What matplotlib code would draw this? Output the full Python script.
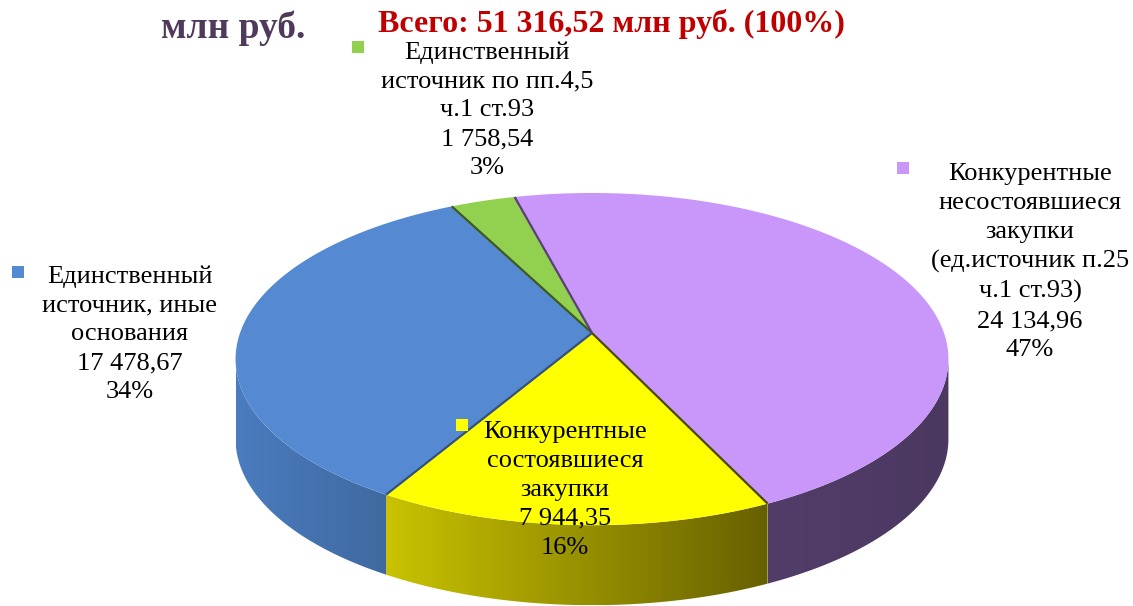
import numpy as np
import matplotlib
matplotlib.use('Agg')
import matplotlib.pyplot as plt
from matplotlib.patches import Polygon, Rectangle
from matplotlib.colors import to_rgb

plt.rcParams['font.family'] = ['Liberation Serif', 'DejaVu Serif']

# data (clockwise from the top of the pie)
labels = ['Единственный\nисточник по пп.4,5\nч.1 ст.93',
          'Конкурентные\nнесостоявшиеся\nзакупки\n(ед.источник п.25\nч.1 ст.93)',
          'Конкурентные\nсостоявшиеся\nзакупки',
          'Единственный\nисточник, иные\nоснования']
values = [1758.54, 24134.96, 7944.35, 17478.67]
value_text = ['1 758,54', '24 134,96', '7 944,35', '17 478,67']
pct_text = ['3%', '47%', '16%', '34%']
top_colors = ['#92D050', '#C996FA', '#FFFF00', '#558AD3']
wall_left = ['#6F9E3C', '#523D6A', '#C9C300', '#4B7CBF']
wall_right = ['#5F8833', '#4B3860', '#676000', '#3F69A0']
edge_colors = ['#3E5A20', '#5A3F78', '#4A4A10', '#34507E']
total_text = 'Всего: 51 316,52 млн руб. (100%)'

# geometry in pixels
W, H = 1133, 606
cx, cy = 592, 333
rx, ry = 352, 162
k = 0.157
depth = 80
start = -117.0

fig = plt.figure(figsize=(W / 100, H / 100), dpi=100)
ax = fig.add_axes([0, 0, 1, 1])
ax.set_xlim(0, W)
ax.set_ylim(H, 0)
ax.axis('off')


def proj(phi, dz=0.0):
    phi = np.radians(phi)
    X, Z = np.cos(phi), np.sin(phi)
    s = 1 / (1 - k * Z)
    return cx + rx * X * s, cy + ry * Z * s + dz


total = sum(values)
bounds = [start]
for v in values:
    bounds.append(bounds[-1] + v / total * 360)

vis_lo = np.degrees(np.arcsin(k))
vis_hi = 180 - vis_lo

# outer walls with a left-to-right shade
for i in range(len(values)):
    a, b = bounds[i], bounds[i + 1]
    for off in (0, 360, -360):
        lo, hi = max(a + off, vis_lo), min(b + off, vis_hi)
        if hi <= lo:
            continue
        ph = np.linspace(lo, hi, 120)
        tx, ty = proj(ph)
        bx, by = proj(ph[::-1], depth)
        pts = np.column_stack([np.concatenate([tx, bx]), np.concatenate([ty, by])])
        poly = Polygon(pts, closed=True, facecolor='none', edgecolor='none')
        ax.add_patch(poly)
        c1, c2 = np.array(to_rgb(wall_left[i])), np.array(to_rgb(wall_right[i]))
        t = np.linspace(0, 1, 256)
        grad = (c1[None, :] * (1 - t[:, None]) + c2[None, :] * t[:, None])[None, :, :]
        im = ax.imshow(grad, extent=[pts[:, 0].min(), pts[:, 0].max(),
                                     pts[:, 1].max(), pts[:, 1].min()],
                       aspect='auto', zorder=1, interpolation='bilinear')
        im.set_clip_path(poly)

# top faces
for i in range(len(values)):
    ph = np.linspace(bounds[i], bounds[i + 1], 200)
    tx, ty = proj(ph)
    pts = np.column_stack([np.concatenate([[cx], tx]), np.concatenate([[cy], ty])])
    ax.add_patch(Polygon(pts, closed=True, facecolor=top_colors[i],
                         edgecolor='none', zorder=2))

# radial seams
for i in range(len(values)):
    x1, y1 = proj(bounds[i])
    ax.plot([cx, x1], [cy, y1], color=edge_colors[i], lw=1.6, zorder=3,
            solid_capstyle='butt')

# data labels
label_pos = [(487, 110), (1030, 262), (565, 490), (130, 334)]
marker_pos = [(358, 47), (903, 168), (462, 425), (18, 272)]
for i in range(len(values)):
    txt = labels[i] + '\n' + value_text[i] + '\n' + pct_text[i]
    ax.text(label_pos[i][0], label_pos[i][1], txt, ha='center', va='center',
            fontsize=19, linespacing=1.4, color='black', zorder=5)
    mx, my = marker_pos[i]
    ax.add_patch(Rectangle((mx - 6, my - 6), 12, 12, facecolor=top_colors[i],
                           edgecolor='none', zorder=5))

ax.text(611, 24, total_text, ha='center', va='center', fontsize=23,
        fontweight='bold', color='#C00000', zorder=6)
ax.text(233, 28, 'млн руб.', ha='center', va='center', fontsize=27,
        fontweight='bold', color='#4F3A5C', zorder=6)

fig.savefig('out.png', dpi=100)
